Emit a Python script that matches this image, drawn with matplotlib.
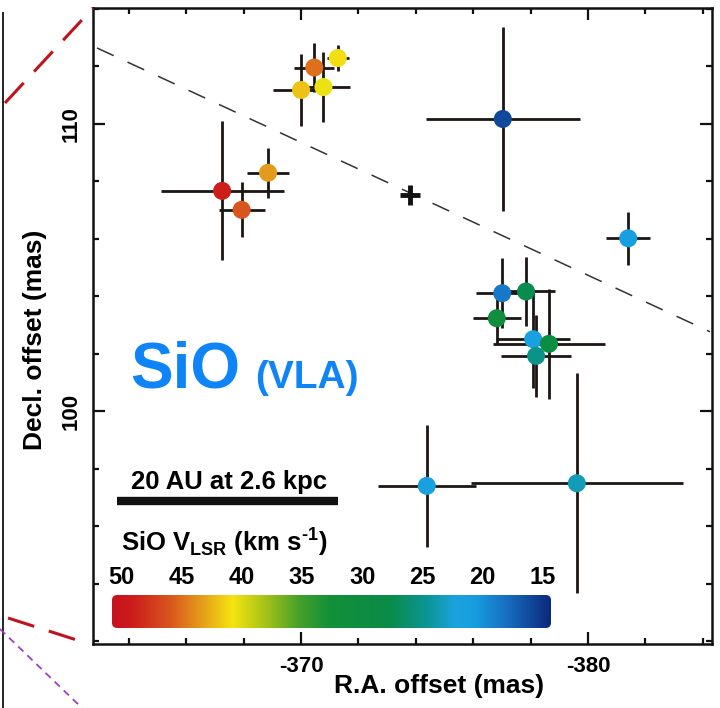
import numpy as np
import matplotlib
matplotlib.use("Agg")
import matplotlib.pyplot as plt
from matplotlib.colors import LinearSegmentedColormap, Normalize
from matplotlib.lines import Line2D
from matplotlib.patches import FancyBboxPatch
from matplotlib.ticker import MultipleLocator, FixedLocator

plt.rcParams["font.family"] = ["Liberation Sans", "DejaVu Sans"]
plt.rcParams["mathtext.fontset"] = "custom"
plt.rcParams["mathtext.rm"] = "Liberation Sans:bold"
plt.rcParams["mathtext.bf"] = "Liberation Sans:bold"
plt.rcParams["axes.unicode_minus"] = False

# SiO maser spots: R.A. / Decl. offsets (mas), errors (mas), V_LSR (km/s)
ra_off = [-367.25, -367.93, -368.85, -370.46, -370.00, -370.78, -371.28,
          -377.03, -381.40, -377.01, -377.84, -376.82, -378.09, -378.64,
          -378.19, -374.38, -379.61]
dec_off = [107.67, 107.01, 108.30, 111.96, 111.18, 111.28, 112.29,
           110.17, 106.02, 104.11, 104.17, 103.24, 102.51, 102.35,
           101.93, 97.41, 97.50]
ra_err = [2.14, 0.80, 0.73, 0.70, 0.98, 0.94, 0.38,
          2.68, 0.76, 0.91, 1.01, 0.84, 1.28, 1.95,
          1.22, 1.71, 3.69]
dec_err = [2.42, 0.96, 0.87, 0.86, 1.25, 1.22, 0.45,
           3.20, 0.93, 1.22, 1.20, 0.90, 1.70, 1.91,
           1.43, 2.12, 3.83]
vlsr = [49.0, 46.0, 43.5, 45.0, 42.0, 40.5, 41.0,
        16.0, 21.0, 18.5, 27.5, 31.0, 21.5, 29.5,
        25.0, 21.5, 23.5]

# reference position (+) and dashed axis line
cross_ra, cross_dec = -373.80, 107.53
axis_ra = [-362.89, -384.25]
axis_dec = [112.64, 102.77]

# scale bar: 20 AU at 2.6 kpc
scale_start = -363.6
scale_len = 20.0 / 2.6
scale_dec = 96.89

# colour scale of the velocity
cbar_ticks = [50, 45, 40, 35, 30, 25, 20, 15]
vmin, vmax = 14.3, 50.8
stop_v = [50.8, 49.3, 46.0, 43.5, 40.8, 38.1, 35.2, 32.7, 27.7, 24.75, 22.25, 20.6, 18.1, 14.3]
stop_c = ["#c8141c", "#cc1a1c", "#d9561e", "#e49a1a", "#f5e510", "#a6c318", "#45a02a",
          "#139038", "#0a8b48", "#0a9590", "#1ca2dc", "#169ee0", "#1872c4", "#0b2a7c"]

pos = [(v - vmin) / (vmax - vmin) for v in stop_v][::-1]
cmap = LinearSegmentedColormap.from_list("vlsr", list(zip(pos, stop_c[::-1])))
norm = Normalize(vmin=vmin, vmax=vmax)

W, H = 720, 708
fig = plt.figure(figsize=(W / 100, H / 100), dpi=100)
ax = fig.add_axes([93 / W, (H - 644) / H, 619 / W, 636 / H])


def ax_frac(px, py):
    return (px - 93) / 619.0, (644 - py) / 636.0


ax.errorbar(ra_off, dec_off, xerr=ra_err, yerr=dec_err, fmt="none",
            ecolor="#1c1614", elinewidth=2.0, capsize=0, zorder=2)
ax.scatter(ra_off, dec_off, c=vlsr, cmap=cmap, norm=norm, s=13 ** 2,
           edgecolors="none", zorder=3)
ax.plot(axis_ra, axis_dec, ls=(0, (12, 10)), lw=1.1, color="#333333", zorder=1)
ax.plot(cross_ra, cross_dec, marker="+", ms=14, mew=3.5, color="#111111", zorder=4)
ax.plot([scale_start, scale_start - scale_len], [scale_dec, scale_dec],
        lw=6, color="#111111", solid_capstyle="butt")

ax.set_xlim(-362.75, -384.32)
ax.set_ylim(91.91, 114.03)
ax.xaxis.set_major_locator(FixedLocator([-370, -380]))
ax.xaxis.set_minor_locator(MultipleLocator(2))
ax.yaxis.set_major_locator(FixedLocator([100, 110]))
ax.yaxis.set_minor_locator(MultipleLocator(2))
ax.tick_params(which="both", direction="in", top=True, right=True,
               width=1.6, labelsize=16, color="#111111")
ax.tick_params(which="major", length=8.6)
ax.tick_params(which="minor", length=4.3)
ax.tick_params(axis="x", pad=9)
ax.tick_params(axis="y", pad=8)
for lab in ax.get_yticklabels():
    lab.set_rotation(90)
    lab.set_va("center")
for lab in ax.get_xticklabels() + ax.get_yticklabels():
    lab.set_fontweight("bold")
for sp in ax.spines.values():
    sp.set_linewidth(1.8)
    sp.set_color("#111111")

ax.set_xlabel("R.A. offset (mas)", fontsize=19, fontweight="bold")
ax.set_ylabel("Decl. offset (mas)", fontsize=19, fontweight="bold")
ax.xaxis.set_label_coords(*ax_frac(439, 674))
ax.yaxis.set_label_coords(*ax_frac(47, 340))

x, y = ax_frac(130, 388)
ax.text(x, y, "SiO", transform=ax.transAxes, fontsize=46, fontweight="bold",
        color="#0f84f7", va="baseline")
x, y = ax_frac(255, 388)
ax.text(x, y, "(VLA)", transform=ax.transAxes, fontsize=28, fontweight="bold",
        color="#0f84f7", va="baseline")
x, y = ax_frac(229, 489)
ax.text(x, y, "20 AU at 2.6 kpc", transform=ax.transAxes, fontsize=18.5,
        fontweight="bold", ha="center", va="baseline")
x, y = ax_frac(121, 551)
ax.text(x, y, r"SiO V$_{\mathrm{LSR}}$ (km s$^{\text{-}\mathrm{1}}$)", transform=ax.transAxes,
        fontsize=18.5, fontweight="bold", va="baseline")

# colour bar with rounded corners
cx0, cy0 = ax_frac(112, 628)
cx1, cy1 = ax_frac(551, 595)
cax = ax.inset_axes([cx0, cy0, cx1 - cx0, cy1 - cy0])
grad = np.linspace(vmax, vmin, 512).reshape(1, -1)
im = cax.imshow(grad, cmap=cmap, norm=norm, aspect="auto",
                extent=[vmax, vmin, 0, 1])
cax.set_xlim(vmax, vmin)
cax.set_ylim(0, 1)
clip = FancyBboxPatch((0, 0), 1, 1, boxstyle="round,pad=0,rounding_size=0.012",
                      mutation_aspect=13, transform=cax.transAxes,
                      facecolor="none", edgecolor="none")
cax.add_patch(clip)
im.set_clip_path(clip)
for sp in cax.spines.values():
    sp.set_visible(False)
cax.set_yticks([])
cax.xaxis.set_ticks_position("top")
cax.set_xticks(cbar_ticks)
cax.set_xticklabels([str(t) for t in cbar_ticks], fontsize=17, fontweight="bold")
cax.tick_params(axis="x", length=0, pad=4)
cax.patch.set_alpha(0)

# connector lines from the neighbouring panels
def fig_line(xs, ys, **kw):
    fig.add_artist(Line2D([px / W for px in xs], [1 - py / H for py in ys],
                          transform=fig.transFigure, **kw))


fig_line([2.5, 2.5], [13, 708], color="#222222", lw=1.4)
fig_line([5, 93], [103, 8], color="#c0141c", lw=2.2, ls=(0, (9, 5)))
fig_line([8, 83], [618, 642], color="#c0141c", lw=2.2, ls=(0, (9, 5)))
fig_line([0, 82], [629, 708], color="#a040c0", lw=1.3, ls=(0, (4, 3)))

fig.savefig("out.png", dpi=100)
